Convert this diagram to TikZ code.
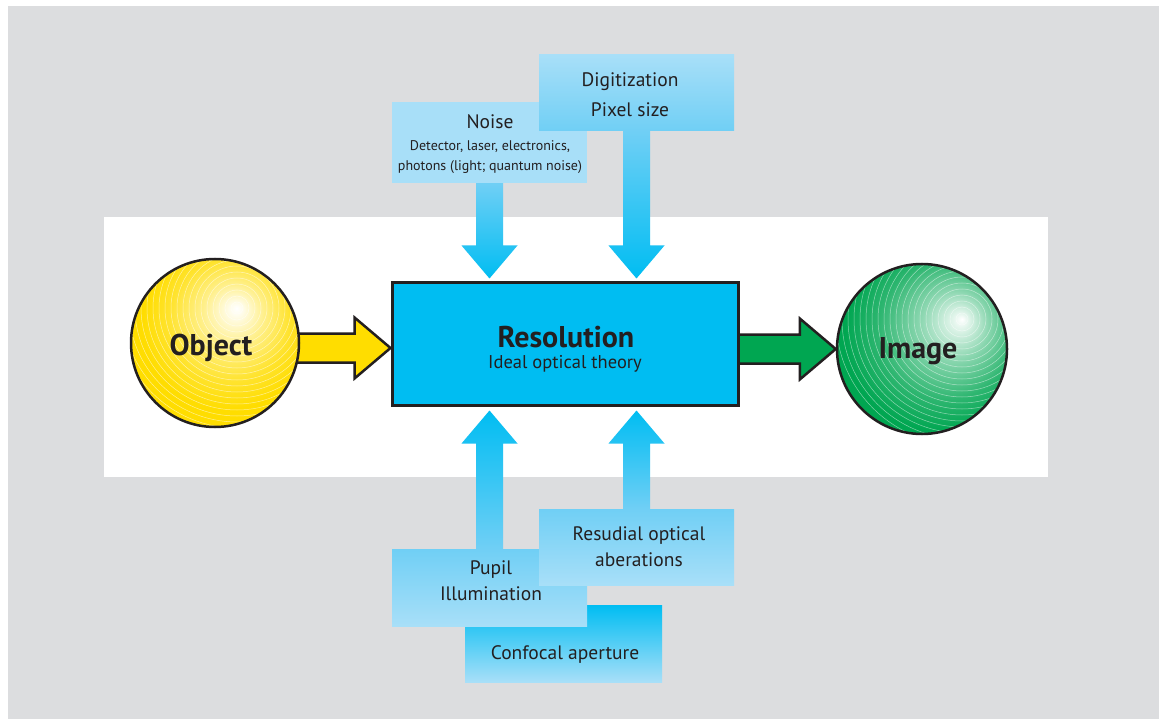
\documentclass[tikz,border=0pt]{standalone}
\usepackage{fontspec}
\setmainfont{PT Sans}
\usetikzlibrary{calc}
\definecolor{bgGray}{RGB}{220,221,223}
\definecolor{cyanB}{RGB}{0,189,242}
\definecolor{midB}{RGB}{112,207,245}
\definecolor{lightB}{RGB}{168,223,248}
\definecolor{objY}{RGB}{255,221,0}
\definecolor{imgG}{RGB}{0,166,81}
\definecolor{inkK}{RGB}{35,31,32}
\pgfdeclareradialshading{objshade}{\pgfpoint{6.5bp}{10.4bp}}{color(0bp)=(white); color(2bp)=(white!92!objY); color(9bp)=(white!55!objY); color(18bp)=(white!18!objY); color(25bp)=(objY); color(50bp)=(objY)}
\pgfdeclareradialshading{imgshade}{\pgfpoint{11.8bp}{8.8bp}}{color(0bp)=(white); color(2bp)=(white!90!imgG); color(10bp)=(white!55!imgG); color(20bp)=(white!18!imgG); color(28bp)=(imgG); color(50bp)=(imgG)}
\pgfdeclarelayer{bg}
\pgfdeclarelayer{mid}
\pgfsetlayers{bg,mid,main}
% block arrows: style, start, tip, head offset
\newcommand{\vblock}[4]{\shade[#1] ($(#2)+(-13.5,0)$) -- ($(#3)+(-13.5,#4)$) -- ($(#3)+(-28,#4)$) -- (#3) -- ($(#3)+(28,#4)$) -- ($(#3)+(13.5,#4)$) -- ($(#2)+(13.5,0)$) -- cycle;}
\newcommand{\hblock}[3]{\draw[#1] ($(#2)+(0,-14.5)$) -- ($(#3)+(-36,-14.5)$) -- ($(#3)+(-36,-30.5)$) -- (#3) -- ($(#3)+(-36,30.5)$) -- ($(#3)+(-36,14.5)$) -- ($(#2)+(0,14.5)$);}
\tikzset{
  infobox/.style={inner sep=0pt, minimum width=195pt},
  ball/.style={circle, draw=inkK, line width=2.5pt, minimum size=168pt, inner sep=0pt},
  txt/.style={anchor=base, inner sep=0pt, text=inkK, font=\fontsize{19.5}{23}\selectfont},
  smalltxt/.style={txt, font=\fontsize{14}{17}\selectfont},
  balltxt/.style={txt, font=\bfseries\fontsize{30}{34}\selectfont},
  downshade/.style={top color=midB, middle color=cyanB, bottom color=cyanB},
  upshade/.style={top color=cyanB, middle color=cyanB, bottom color=midB},
  fatarrow/.style={draw=inkK, line width=2.5pt, miter limit=10}
}
\begin{document}
\begin{tikzpicture}[x=1pt,y=-1pt]
\useasboundingbox (0,0) rectangle (1159,719);
\begin{pgfonlayer}{bg}
\fill[bgGray] (8,6) rectangle (1159,719);
\fill[white] (104,217) rectangle (1048,477);
\node[infobox, minimum width=197pt, minimum height=77pt, top color=cyanB, middle color=lightB, bottom color=lightB] (confocal) at (563.5,643.5) {};
\node[infobox, minimum height=77pt, top color=midB, bottom color=lightB] (pupil) at (489.5,587.5) {};
\node[infobox, minimum height=76pt, top color=midB, bottom color=lightB] (resud) at (636.5,547) {};
\node[infobox, minimum height=81pt, fill=lightB] (noise) at (489.5,142.5) {};
\node[infobox, minimum height=76pt, top color=lightB, bottom color=midB] (digit) at (636.5,93) {};
\end{pgfonlayer}

\node[draw=inkK, line width=3pt, fill=cyanB, minimum width=346pt, minimum height=122pt, inner sep=0pt] (res) at (565,344) {};

% spheres
\coordinate (objC) at (215,343);
\coordinate (objHi) at ($(objC)+(22,-35)$);
\shade[shading=objshade] (objC) circle[radius=84pt];
\begin{scope}
\clip (objC) circle[radius=84pt];
\foreach \r in {6,12,...,120} \draw[white, line width=0.5pt, opacity=0.55] (objHi) circle[radius=\r pt];
\end{scope}
\node[ball] (obj) at (objC) {};

\coordinate (imgC) at (922,349);
\coordinate (imgHi) at ($(imgC)+(40,-30)$);
\shade[shading=imgshade] (imgC) circle[radius=85pt];
\begin{scope}
\clip (imgC) circle[radius=85pt];
\foreach \r in {6,12,...,126} \draw[white, line width=0.5pt, opacity=0.5] (imgHi) circle[radius=\r pt];
\end{scope}
\node[ball, minimum size=170pt] (img) at (imgC) {};

% arrows
\coordinate (noiseTip) at ($(noise.south |- res.north)+(0,-3)$);
\coordinate (digitTip) at ($(digit.south |- res.north)+(0,-3)$);
\coordinate (pupilTip) at ($(pupil.north |- res.south)+(0,4)$);
\coordinate (resudTip) at ($(resud.north |- res.south)+(0,4)$);
\coordinate (objTip) at ($(res.west)+(0,4)$);
\coordinate (objStart) at ($(obj.center |- objTip)+(60,0)$);
\coordinate (imgStart) at (res.east |- img.west);
\begin{pgfonlayer}{mid}
\vblock{downshade}{noise.south}{noiseTip}{-33}
\vblock{downshade}{digit.south}{digitTip}{-33}
\vblock{upshade}{pupil.north}{pupilTip}{33}
\vblock{upshade}{resud.north}{resudTip}{33}
\hblock{fatarrow, fill=objY}{objStart}{objTip}
\hblock{fatarrow, fill=imgG}{imgStart}{img.west}
\end{pgfonlayer}

% texts
\node[balltxt] (objT) at (211,355) {Object};
\node[balltxt] (imgT) at (918,358) {Image};
\node[txt, font=\bfseries\fontsize{30}{34}\selectfont] (resA) at (566,347) {Resolution};
\node[txt, font=\fontsize{18.5}{21}\selectfont] (resB) at (565,368) {Ideal optical theory};
\node[txt] (noiseA) at (490,129) {Noise};
\node[smalltxt] (noiseB) at (490,151) {Detector, laser, electronics,};
\node[smalltxt] (noiseC) at (490,171) {photons (light; quantum noise)};
\node[txt] (digitA) at (630,87) {Digitization};
\node[txt] (digitB) at (630,117) {Pixel size};
\node[txt] (pupilA) at (491,574) {Pupil};
\node[txt] (pupilB) at (491,600) {Illumination};
\node[txt] (resudA) at (639,540) {Resudial optical};
\node[txt] (resudB) at (639,566) {aberations};
\node[txt] (confocalA) at (565,659) {Confocal aperture};
\end{tikzpicture}
\end{document}
